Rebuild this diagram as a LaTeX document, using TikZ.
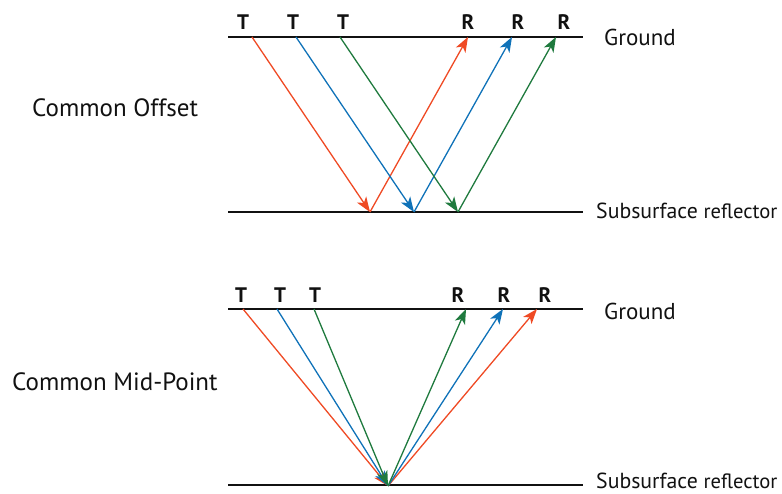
\documentclass[tikz,border=0pt]{standalone}
\usepackage{fontspec}
\setmainfont{PT Sans}
\usetikzlibrary{positioning,arrows.meta,calc}
\definecolor{ray1}{HTML}{EF4A24}
\definecolor{ray2}{HTML}{0F72B8}
\definecolor{ray3}{HTML}{1F7A3E}
\definecolor{ink}{HTML}{111111}
\tikzset{
  layer/.style={draw=ink,line width=1.5pt},
  ray/.style={line width=1.3pt,-{Stealth[length=15pt,width=11pt,inset=4pt]}},
  tag/.style={font=\bfseries\fontsize{21}{24}\selectfont,text=ink,inner sep=0pt},
  sidelabel/.style={font=\fontsize{23}{26}\selectfont,text=ink,inner sep=0pt,anchor=west},
  panelname/.style={font=\fontsize{25}{30}\selectfont,text=ink,inner sep=0pt,anchor=west}
}
\newcommand{\reflname}{\fontsize{21.8}{26}\selectfont Subsurface \fontsize{20.6}{26}\selectfont reflector}

\begin{document}
\begin{tikzpicture}[x=1pt,y=-1pt]
\useasboundingbox (0,0) rectangle (782,494);
% common offset
\coordinate (ga1) at (228,37);\coordinate (ga2) at (583,37);
\coordinate (sa1) at (228,212);\coordinate (sa2) at (583,212);
\draw[layer] (ga1)--(ga2);\draw[layer] (sa1)--(sa2);
\node[panelname] (co) at (32,108){Common Offset};
\node[sidelabel] (g1) at (604,37){Ground};
\node[sidelabel] (s1) at (596,211){\reflname};
\coordinate (ta1) at (252,37);\coordinate (ta2) at (296,37);\coordinate (ta3) at (340,37);
\coordinate (pa1) at (370,212);\coordinate (pa2) at (414,212);\coordinate (pa3) at (458,212);
\coordinate (ra1) at (468,37);\coordinate (ra2) at (512,37);\coordinate (ra3) at (556,37);
\node[tag] (lta1) at (243,22){T};\node[tag] (lta2) at (293,22){T};\node[tag] (lta3) at (343,22){T};
\node[tag] (lra1) at (468,22){R};\node[tag] (lra2) at (518,22){R};\node[tag] (lra3) at (564,22){R};
\draw[ray,ray1] (ta1)--(pa1);\draw[ray,ray1] (pa1)--(ra1);
\draw[ray,ray2] (ta2)--(pa2);\draw[ray,ray2] (pa2)--(ra2);
\draw[ray,ray3] (ta3)--(pa3);\draw[ray,ray3] (pa3)--(ra3);
% common mid-point
\coordinate (gb1) at (228,309);\coordinate (gb2) at (583,309);
\coordinate (sb1) at (228,485);\coordinate (sb2) at (583,485);
\draw[layer] (gb1)--(gb2);\draw[layer] (sb1)--(sb2);
\node[panelname] (cm) at (12,382){Common Mid-Point};
\node[sidelabel] (g2) at (604,311){Ground};
\node[sidelabel] (s2) at (596,481){\reflname};
\coordinate (tb1) at (243,309);\coordinate (tb2) at (277,309);\coordinate (tb3) at (314,309);
\coordinate (mp) at (388,486);
\coordinate (rb1) at (537,309);\coordinate (rb2) at (503,309);\coordinate (rb3) at (466,309);
\node[tag] (ltb1) at (241,295){T};\node[tag] (ltb2) at (280,295){T};\node[tag] (ltb3) at (315,295){T};
\node[tag] (lrb3) at (458,295){R};\node[tag] (lrb2) at (504,295){R};\node[tag] (lrb1) at (545,295){R};
\draw[ray,ray1] (tb1)--(mp);\draw[ray,ray1] (mp)--(rb1);
\draw[ray,ray2] (tb2)--(mp);\draw[ray,ray2] (mp)--(rb2);
\draw[ray,ray3] (tb3)--(mp);\draw[ray,ray3] (mp)--(rb3);
\end{tikzpicture}
\end{document}
